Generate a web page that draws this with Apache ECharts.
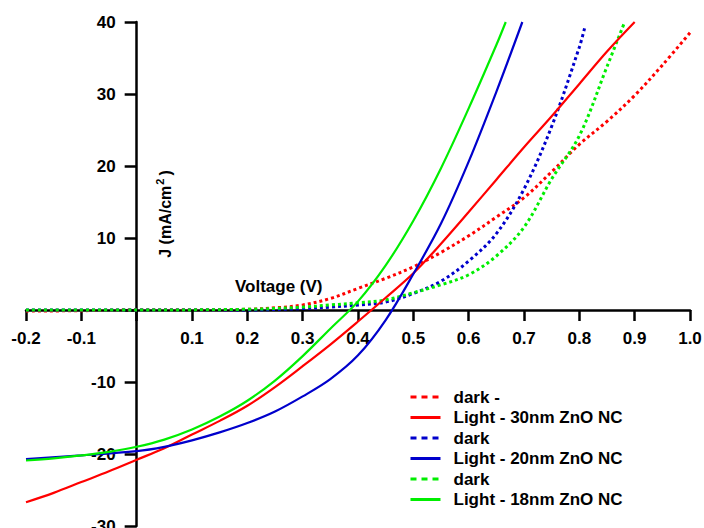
<!DOCTYPE html>
<html>
<head>
<meta charset="utf-8">
<script src="https://cdn.jsdelivr.net/npm/echarts@6/dist/echarts.min.js"></script>
<style>
  html, body { margin: 0; padding: 0; background: #fff; }
  #chart { width: 704px; height: 528px; }
</style>
</head>
<body>
<div id="chart"></div>
<script>
// J-V curves, voltage in V, current density in mA/cm2
const vDark30 = [-0.2, -0.1, 0, 0.1, 0.2, 0.25, 0.3, 0.35, 0.4, 0.45, 0.5, 0.55, 0.6, 0.65, 0.7, 0.75, 0.8, 0.85, 0.9, 0.95, 1.0];
const jDark30 = [-0.15, -0.1, 0, 0, 0.1, 0.3, 0.7, 1.6, 3.0, 4.4, 6.0, 8.0, 10.3, 12.9, 15.6, 19.2, 23.0, 26.2, 29.8, 34.0, 38.5];

const vLight30 = [-0.2, -0.15, -0.1, -0.05, 0, 0.05, 0.1, 0.15, 0.2, 0.25, 0.3, 0.35, 0.4, 0.45, 0.5, 0.55, 0.6, 0.65, 0.7, 0.75, 0.8, 0.85, 0.9];
const jLight30 = [-26.7, -25.4, -23.9, -22.4, -20.8, -19.2, -17.3, -15.4, -13.3, -10.7, -7.8, -4.8, -1.6, 1.7, 5.1, 9.2, 13.6, 18.1, 22.6, 26.9, 31.4, 35.9, 40.0];

const vDark20 = [-0.2, 0, 0.2, 0.3, 0.35, 0.4, 0.45, 0.5, 0.55, 0.6, 0.65, 0.7, 0.75, 0.8, 0.81];
const jDark20 = [0, 0, 0, 0.2, 0.4, 0.7, 1.1, 2.3, 4.0, 6.8, 10.6, 16.8, 25.5, 36.5, 39.3];

const vLight20 = [-0.2, -0.1, 0, 0.05, 0.1, 0.15, 0.2, 0.25, 0.3, 0.35, 0.4, 0.45, 0.5, 0.55, 0.6, 0.65, 0.697];
const jLight20 = [-20.7, -20.2, -19.6, -19.0, -18.1, -17.0, -15.7, -14.1, -12.0, -9.6, -6.3, -1.4, 5.0, 12.0, 20.6, 30.3, 40.0];

const vDark18 = [-0.2, 0, 0.2, 0.3, 0.35, 0.4, 0.45, 0.5, 0.55, 0.6, 0.65, 0.7, 0.75, 0.8, 0.85, 0.882];
const jDark18 = [0, 0, 0.1, 0.4, 0.7, 1.0, 1.4, 2.4, 3.5, 4.9, 7.5, 11.5, 18.2, 24.2, 33.8, 40.0];

const vLight18 = [-0.2, -0.15, -0.1, -0.05, 0, 0.05, 0.1, 0.15, 0.2, 0.25, 0.3, 0.35, 0.4, 0.45, 0.5, 0.55, 0.6, 0.65, 0.667];
const jLight18 = [-20.9, -20.6, -20.2, -19.7, -19.0, -18.0, -16.6, -14.8, -12.6, -9.8, -6.4, -2.6, 1.2, 6.2, 12.4, 19.7, 28.0, 36.8, 40.0];

const legendNames = ['dark -', 'Light - 30nm ZnO NC', 'dark', 'Light - 20nm ZnO NC', 'dark', 'Light - 18nm ZnO NC'];

const FONT = 'Liberation Sans, Arial, sans-serif';

// axis ranges
const xMin = -0.2, xMax = 1.0;
const yMin = -30, yMax = 40;

// grid box
const W = 704, H = 528;
const gLeft = 26, gRight = 14, gTop = 22, gBottom = 2;

function zip(xs, ys) {
    return xs.map(function (x, i) { return [x, ys[i]]; });
}

function curve(idx, xs, ys, color, dashed) {
    return {
        name: 's' + idx,
        type: 'line',
        data: zip(xs, ys),
        symbol: 'none',
        smooth: 0.35,
        lineStyle: {
            color: color,
            width: dashed ? 3 : 2.2,
            type: dashed ? [3, 3] : 'solid'
        },
        itemStyle: { color: color },
        z: dashed ? 3 : 4
    };
}

let myChart = echarts.init(document.getElementById('chart'), null, { renderer: 'svg' });

let colors = ['#ff0000', '#ff0000', '#0000cc', '#0000cc', '#00ee00', '#00ee00'];

// axes cross at zero: move them inside the grid
let gw = W - gLeft - gRight, gh = H - gTop - gBottom;
let xOffset = -gh * (0 - yMin) / (yMax - yMin);
let yOffset = -gw * (0 - xMin) / (xMax - xMin);

let option = {
    animation: false,
    grid: {
        left: gLeft,
        right: gRight,
        top: gTop,
        bottom: gBottom,
        outerBoundsMode: 'none',
        containLabel: false
    },
    xAxis: {
        type: 'value',
        position: 'bottom',
        offset: xOffset,
        min: xMin,
        max: xMax,
        interval: 0.1,
        axisLine: { onZero: false, lineStyle: { color: '#000', width: 2.5 } },
        axisTick: { show: true, length: 11, lineStyle: { color: '#000', width: 2.5 } },
        splitLine: { show: false },
        axisLabel: {
            margin: 20,
            color: '#000',
            fontFamily: FONT,
            fontWeight: 'bold',
            fontSize: 17,
            hideOverlap: false,
            formatter: function (v) {
                return Math.abs(v) < 1e-9 ? '' : v.toFixed(1);
            }
        }
    },
    yAxis: {
        type: 'value',
        position: 'left',
        offset: yOffset,
        min: yMin,
        max: yMax,
        interval: 10,
        axisLine: { onZero: false, lineStyle: { color: '#000', width: 2.5 } },
        axisTick: { show: true, length: 12, lineStyle: { color: '#000', width: 2.5 } },
        splitLine: { show: false },
        axisLabel: {
            margin: 21,
            color: '#000',
            fontFamily: FONT,
            fontWeight: 'bold',
            fontSize: 17,
            hideOverlap: false,
            formatter: function (v) {
                return v === 0 ? '' : String(v);
            }
        }
    },
    legend: {
        orient: 'vertical',
        left: 404,
        top: 382,
        itemWidth: 30,
        itemHeight: 14,
        itemGap: 0.5,
        itemStyle: { opacity: 0 },
        formatter: function (name) {
            return legendNames[parseInt(name.slice(1), 10)];
        },
        textStyle: {
            color: '#000',
            fontFamily: FONT,
            fontWeight: 'bold',
            fontSize: 17,
            lineHeight: 20,
            padding: [0, 0, 0, 8]
        },
        data: legendNames.map(function (n, i) {
            return {
                name: 's' + i,
                lineStyle: i % 2 === 0 ? { type: [6, 5], width: 3 } : { width: 3 }
            };
        })
    },
    graphic: [
        {
            type: 'text',
            x: 165,
            y: 214,
            rotation: Math.PI / 2,
            style: {
                text: 'J (mA/cm{s|2})',
                fill: '#000',
                font: 'bold 16px ' + FONT,
                align: 'center',
                verticalAlign: 'middle',
                rich: {
                    s: { fontSize: 11, fontWeight: 'bold', fontFamily: FONT, verticalAlign: 'top', padding: [0, 3, 10, 1] }
                }
            }
        },
        {
            type: 'text',
            left: 235,
            top: 278,
            style: {
                text: 'Voltage (V)',
                fill: '#000',
                font: 'bold 17px ' + FONT
            }
        }
    ],
    series: [
        curve(0, vDark30, jDark30, colors[0], true),
        curve(1, vLight30, jLight30, colors[1], false),
        curve(2, vDark20, jDark20, colors[2], true),
        curve(3, vLight20, jLight20, colors[3], false),
        curve(4, vDark18, jDark18, colors[4], true),
        curve(5, vLight18, jLight18, colors[5], false)
    ]
};

myChart.setOption(option);
</script>
</body>
</html>
